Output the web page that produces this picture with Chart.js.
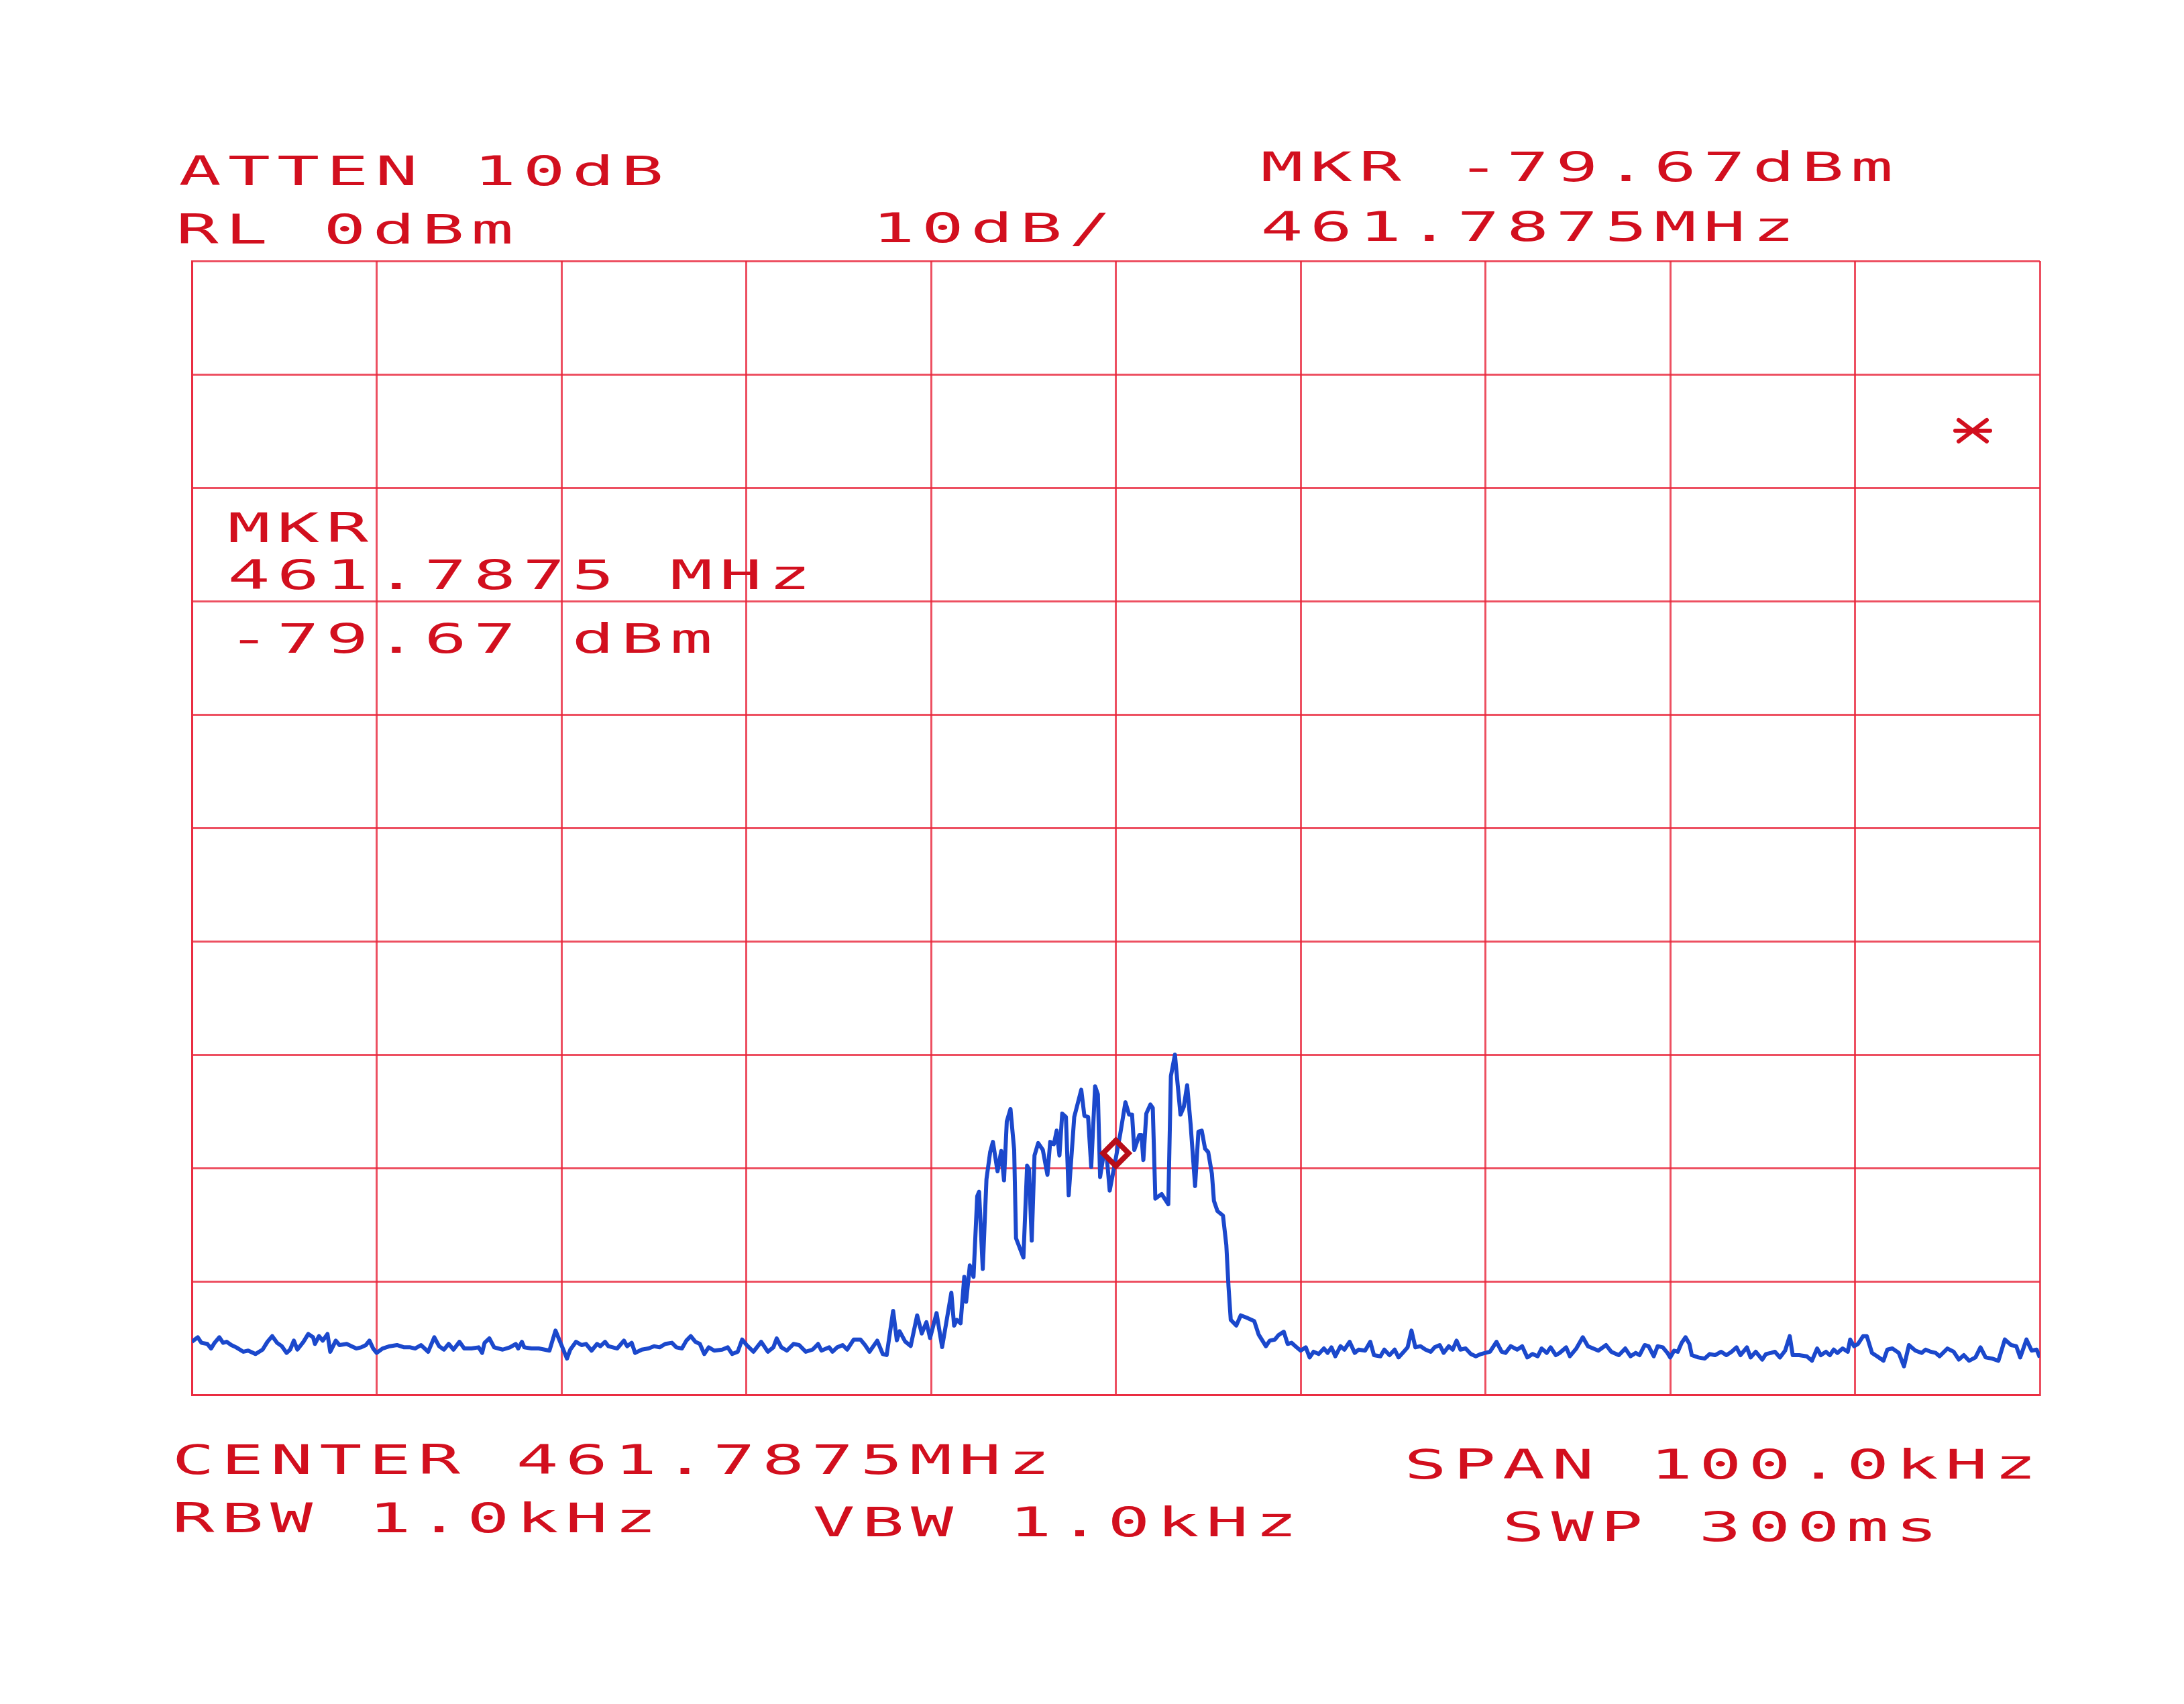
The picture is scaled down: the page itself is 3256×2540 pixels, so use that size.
<!DOCTYPE html>
<html lang="en">
<head>
<meta charset="UTF-8">
<title>Spectrum plot 461.7875 MHz</title>
<script src="https://cdn.jsdelivr.net/npm/chart.js"></script>
<style>
  html, body { margin: 0; padding: 0; background: #ffffff; }
  canvas { display: block; }
</style>
</head>
<body>
<canvas id="plot" width="3256" height="2540"></canvas>
<script>
    // trace: offset from centre (kHz) and level (dBm)
    const freqKHz = [
        -50.0,-49.68,-49.48,-49.16,-48.96,-48.77,-48.51,-48.31,-48.12,-47.86,
        -47.60,-47.21,-46.95,-46.56,-46.17,-45.91,-45.65,-45.39,-45.13,-44.87,
        -44.68,-44.48,-44.29,-43.96,-43.70,-43.44,-43.34,-43.12,-42.92,-42.66,
        -42.51,-42.21,-42.01,-41.62,-41.36,-41.10,-40.84,-40.58,-40.39,-40.19,
        -40.0,-39.68,-39.29,-38.90,-38.51,-38.18,-37.92,-37.60,-37.21,-36.88,
        -36.62,-36.36,-36.10,-35.84,-35.52,-35.26,-34.87,-34.48,-34.29,-34.16,
        -33.90,-33.64,-33.18,-32.79,-32.47,-32.34,-32.14,-32.01,-31.62,-31.23,
        -30.91,-30.65,-30.32,
        -30.0,-29.70,-29.52,-29.21,-28.91,-28.67,-28.37,-28.07,-27.89,-27.64,
        -27.46,-27.22,-26.98,-26.62,-26.44,-26.20,-26.01,-25.65,-25.29,-24.99,
        -24.69,-24.38,-24.02,-23.78,-23.48,-23.24,-23.00,-22.75,-22.51,-22.27,
        -22.03,-21.73,-21.30,-21.00,-20.76,-20.46,-20.22,-19.98,-19.61,-19.19,
        -18.83,-18.53,-18.35,-18.10,-17.80,-17.44,-17.14,-16.78,-16.41,-16.11,
        -15.93,-15.51,-15.33,-15.08,-14.78,-14.54,-14.18,-13.82,-13.57,-13.33,
        -12.91,-12.61,
        -12.4,-12.05,-11.85,-11.7,-11.4,-11.1,-10.75,-10.5,-10.25,-10.05,
        -9.7,-9.4,-8.9,-8.75,-8.6,-8.4,-8.2,-8.1,-7.9,-7.7,
        -7.5,-7.4,-7.2,-7.0,-6.8,-6.65,-6.4,-6.2,-6.05,-5.9,
        -5.7,-5.5,-5.4,-5.0,-4.8,-4.7,-4.55,-4.4,-4.2,-3.95,
        -3.7,-3.55,-3.35,-3.2,-3.05,-2.9,-2.7,-2.55,-2.25,
        -1.87,-1.7,-1.5,-1.33,-1.12,-0.97,-0.85,-0.64,-0.48,-0.33,
        -0.12,0.24,0.52,0.72,0.88,1.0,1.27,1.39,1.49,1.65,
        1.87,2.0,2.14,2.48,2.84,2.98,3.2,3.35,3.5,3.68,
        3.86,4.05,4.29,4.47,4.65,4.83,5.0,5.2,5.31,5.5,
        5.8,5.98,6.1,6.22,6.52,6.76,7.07,7.49,7.73,
        8.12,8.33,8.61,8.81,9.09,9.30,9.51,9.72,10.0,10.28,
        10.49,10.70,10.98,11.26,11.46,11.67,11.88,12.16,12.37,12.65,
        12.93,13.14,13.49,13.77,13.97,14.32,14.53,14.81,15.09,15.30,
        15.58,15.79,16.0,16.21,16.49,16.76,17.04,17.25,17.53,17.74,
        18.02,18.23,18.44,18.65,18.93,19.21,19.48,19.76,20.0,20.25,
        20.60,20.88,21.09,21.37,21.72,21.99,22.27,22.55,22.83,23.04,
        23.32,23.53,23.81,24.02,24.37,24.57,24.92,25.27,25.55,25.83,
        26.11,26.53,26.81,27.22,27.57,27.85,28.13,28.34,28.62,28.83,
        29.11,29.32,29.60,29.85,
        30.0,30.21,30.41,30.62,30.83,31.04,31.17,31.52,31.87,32.14,
        32.42,32.76,33.04,33.32,33.59,33.80,34.15,34.35,34.63,34.98,
        35.18,35.46,35.67,35.94,36.22,36.47,36.63,36.98,37.39,37.67,
        37.95,38.15,38.43,38.64,38.85,39.05,39.33,39.61,39.74,39.95,
        40.16,40.44,40.64,40.92,41.20,41.54,41.75,42.02,42.37,42.65,
        42.92,43.27,43.61,43.82,44.10,44.37,44.58,45.0,45.34,45.62,
        45.89,46.17,46.52,46.79,47.07,47.42,47.76,48.11,48.45,48.73,
        48.94,49.28,49.56,49.83,50.0
    ];
    const levelDbm = [
        -95.33,-94.93,-95.42,-95.52,-95.92,-95.42,-94.93,-95.42,-95.33,-95.62,
        -95.82,-96.21,-96.11,-96.41,-96.02,-95.33,-94.83,-95.42,-95.72,-96.31,
        -96.02,-95.23,-96.02,-95.33,-94.64,-94.93,-95.52,-94.83,-95.23,-94.64,
        -96.21,-95.23,-95.62,-95.52,-95.72,-95.92,-95.82,-95.62,-95.23,-95.92,
        -96.31,-95.92,-95.72,-95.62,-95.82,-95.82,-95.92,-95.62,-96.21,-94.93,
        -95.72,-96.02,-95.52,-96.02,-95.33,-95.92,-95.92,-95.82,-96.31,-95.42,
        -95.03,-95.82,-96.02,-95.82,-95.52,-95.92,-95.33,-95.82,-95.92,-95.92,
        -96.02,-96.11,-94.34,
        -95.62,-96.81,-96.02,-95.33,-95.62,-95.52,-96.11,-95.52,-95.72,-95.33,
        -95.72,-95.82,-95.92,-95.23,-95.72,-95.42,-96.31,-96.02,-95.92,-95.72,
        -95.82,-95.52,-95.42,-95.82,-95.92,-95.23,-94.83,-95.33,-95.52,-96.41,
        -95.82,-96.11,-96.02,-95.82,-96.41,-96.21,-95.13,-95.62,-96.21,-95.33,
        -96.21,-95.82,-95.03,-95.82,-96.11,-95.52,-95.62,-96.21,-96.02,-95.52,
        -96.11,-95.82,-96.21,-95.82,-95.62,-96.02,-95.13,-95.13,-95.62,-96.21,
        -95.23,-96.41,
        -96.5,-92.6,-95.2,-94.4,-95.3,-95.7,-93.0,-94.6,-93.6,-95.0,
        -92.8,-95.8,-91.0,-93.9,-93.4,-93.7,-89.6,-91.8,-88.6,-89.6,
        -82.5,-82.1,-88.9,-81.0,-78.6,-77.7,-80.3,-78.5,-81.1,-75.9,
        -74.8,-78.4,-86.2,-87.9,-79.8,-80.1,-86.4,-78.9,-77.8,-78.4,
        -80.6,-77.7,-77.9,-76.7,-78.9,-75.2,-75.5,-82.4,-75.5,
        -73.1,-75.4,-75.5,-79.9,-72.8,-73.5,-80.8,-78.6,-79.2,-82.0,
        -80.2,-77.0,-74.2,-75.3,-75.3,-78.4,-77.1,-77.1,-79.3,-75.2,
        -74.4,-74.7,-82.7,-82.3,-83.2,-71.9,-70.0,-72.7,-75.3,-74.6,
        -72.7,-76.2,-81.6,-76.8,-76.7,-78.3,-78.6,-80.5,-82.9,-83.8,
        -84.2,-86.8,-90.5,-93.4,-93.9,-93.0,-93.2,-93.5,-94.7,
        -95.72,-95.23,-95.13,-94.73,-94.44,-95.52,-95.42,-95.72,-96.11,-95.82,
        -96.71,-96.21,-96.41,-95.92,-96.31,-95.82,-96.61,-95.72,-96.02,-95.33,
        -96.31,-96.02,-96.11,-95.33,-96.51,-96.61,-96.02,-96.51,-96.02,-96.71,
        -96.21,-95.82,-94.34,-95.82,-95.72,-96.02,-96.21,-95.82,-95.62,-96.31,
        -95.72,-96.02,-95.23,-96.02,-95.92,-96.41,-96.61,-96.41,-96.31,-96.21,
        -95.33,-96.21,-96.31,-95.72,-96.02,-95.72,-96.71,-96.41,-96.61,-95.92,
        -96.31,-95.82,-96.51,-96.31,-95.82,-96.61,-95.92,-94.93,-95.72,-95.92,
        -96.11,-95.62,-96.21,-96.51,-95.92,-96.61,-96.31,-96.51,-95.62,-95.72,
        -96.61,-95.72,-95.82,-96.31,
        -96.71,-96.11,-96.21,-95.42,-94.93,-95.52,-96.51,-96.71,-96.81,-96.41,
        -96.51,-96.21,-96.51,-96.21,-95.82,-96.51,-95.82,-96.71,-96.21,-96.90,
        -96.41,-96.31,-96.21,-96.71,-96.11,-94.83,-96.51,-96.51,-96.61,-97.0,
        -95.92,-96.51,-96.21,-96.51,-96.02,-96.31,-95.92,-96.21,-95.13,-95.72,
        -95.52,-94.83,-94.83,-96.31,-96.61,-97.0,-96.02,-95.92,-96.31,-97.5,
        -95.62,-96.11,-96.31,-96.02,-96.21,-96.31,-96.61,-95.92,-96.21,-96.90,
        -96.51,-97.0,-96.71,-95.82,-96.71,-96.81,-97.0,-95.13,-95.62,-95.72,
        -96.71,-95.13,-96.11,-96.02,-96.71
    ];

    // marker diamond as drawn on the plot
    const markerFreqKHz = [0];
    const markerLevelDbm = [-78.7];

    const headerText = ["ATTEN 10dB", "RL 0dBm", "10dB/", "MKR -79.67dBm", "461.7875MHz"];
    const markerText = ["MKR", "461.7875 MHz", "-79.67 dBm"];
    const footerText = ["CENTER 461.7875MHz", "SPAN 100.0kHz", "RBW 1.0kHz", "VBW 1.0kHz", "SWP 300ms"];

    const PEN_RED = "#d20f1e";
    const GRID_RED = "rgba(232, 36, 58, 0.8)";
    const PEN_BLUE = "#1b48cc";

    function plotterString(ctx, text, x, y) {
        const pitch = 73.3;
        for (let i = 0; i < text.length; i++) {
            if (text[i] === " ") continue;
            ctx.save();
            ctx.translate(x + i * pitch + 28, y);
            ctx.scale(1.75, 1);
            ctx.fillText(text[i], 0, 0);
            ctx.restore();
        }
    }

    const paper = {
        id: "paper",
        beforeDraw(chart) {
            const ctx = chart.ctx;
            ctx.save();
            ctx.fillStyle = "#ffffff";
            ctx.fillRect(0, 0, chart.width, chart.height);
            ctx.restore();
        }
    };

    const plotterText = {
        id: "plotterText",
        afterDraw(chart) {
            const ctx = chart.ctx;
            ctx.save();
            ctx.fillStyle = PEN_RED;
            ctx.font = '60px "DejaVu Sans Mono", monospace';
            ctx.textAlign = "center";
            ctx.textBaseline = "alphabetic";

            plotterString(ctx, headerText[0], 270, 276);
            plotterString(ctx, headerText[1], 266, 363);
            plotterString(ctx, headerText[2], 1304, 361);
            plotterString(ctx, headerText[3], 1883, 270);
            plotterString(ctx, headerText[4], 1883, 359);

            plotterString(ctx, markerText[0], 343, 808);
            plotterString(ctx, markerText[1], 343, 878);
            plotterString(ctx, markerText[2], 343, 973);

            plotterString(ctx, footerText[0], 260, 2197);
            plotterString(ctx, footerText[1], 2097, 2204);
            plotterString(ctx, footerText[2], 260, 2284);
            plotterString(ctx, footerText[3], 1215, 2290);
            plotterString(ctx, footerText[4], 2243, 2297);

            // the little asterisk in the upper right division
            ctx.strokeStyle = PEN_RED;
            ctx.lineWidth = 6;
            ctx.lineCap = "round";
            ctx.beginPath();
            ctx.moveTo(2915, 642); ctx.lineTo(2967, 642);
            ctx.moveTo(2920, 626); ctx.lineTo(2962, 658);
            ctx.moveTo(2920, 658); ctx.lineTo(2962, 626);
            ctx.stroke();
            ctx.restore();
        }
    };

    const tracePoints = freqKHz.map((f, i) => ({ x: f, y: levelDbm[i] }));
    const markerPoints = markerFreqKHz.map((f, i) => ({ x: f, y: markerLevelDbm[i] }));

    const ctx = document.getElementById("plot").getContext("2d");
    new Chart(ctx, {
        type: "line",
        data: {
            datasets: [
                {
                    label: "Trace",
                    data: tracePoints,
                    borderColor: PEN_BLUE,
                    borderWidth: 6,
                    borderJoinStyle: "round",
                    pointRadius: 0,
                    tension: 0,
                    fill: false,
                    order: 2
                },
                {
                    label: "Marker",
                    type: "scatter",
                    data: markerPoints,
                    pointStyle: "rectRot",
                    pointRadius: 19,
                    borderWidth: 8,
                    borderColor: "#b80d18",
                    backgroundColor: "rgba(255,255,255,0)",
                    order: 1
                }
            ]
        },
        options: {
            responsive: false,
            animation: false,
            devicePixelRatio: 1,
            layout: {
                padding: { left: 286, right: 215, top: 389, bottom: 461 }
            },
            plugins: {
                legend: { display: false },
                tooltip: { enabled: false }
            },
            scales: {
                x: {
                    type: "linear",
                    min: -50,
                    max: 50,
                    ticks: { display: false, stepSize: 10 },
                    grid: { color: GRID_RED, lineWidth: 3, drawTicks: false },
                    border: { display: true, color: GRID_RED, width: 3 }
                },
                y: {
                    type: "linear",
                    min: -100,
                    max: 0,
                    ticks: { display: false, stepSize: 10 },
                    grid: { color: GRID_RED, lineWidth: 3, drawTicks: false },
                    border: { display: true, color: GRID_RED, width: 3 }
                }
            }
        },
        plugins: [paper, plotterText]
    });
</script>
</body>
</html>
